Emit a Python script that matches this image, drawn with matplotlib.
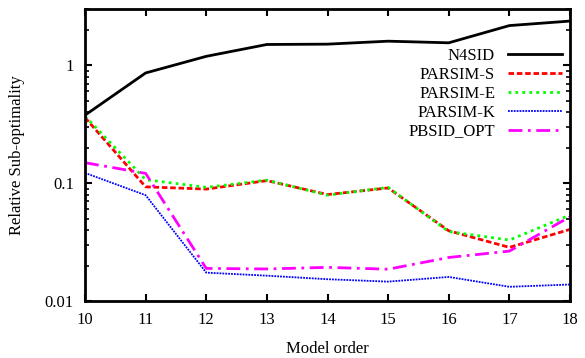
import matplotlib
matplotlib.use("Agg")
import matplotlib.pyplot as plt
from matplotlib.ticker import FixedLocator, LogLocator, NullFormatter

orders = [10, 11, 12, 13, 14, 15, 16, 17, 18]
n4sid = [0.377, 0.86, 1.19, 1.50, 1.51, 1.60, 1.55, 2.17, 2.37]
parsim_s = [0.36, 0.093, 0.089, 0.105, 0.080, 0.091, 0.0394, 0.0285, 0.0405]
parsim_e = [0.37, 0.107, 0.092, 0.106, 0.079, 0.092, 0.0388, 0.0329, 0.0536]
parsim_k = [0.122, 0.079, 0.0174, 0.0164, 0.0153, 0.0146, 0.016, 0.0132, 0.0138]
pbsid_opt = [0.149, 0.121, 0.0189, 0.0187, 0.0193, 0.0186, 0.0234, 0.0265, 0.0519]
ytick_vals = [0.01, 0.1, 1]
ytick_labels = ["0.01", "0.1", "1"]

plt.rcParams['font.family'] = ['Liberation Serif', 'DejaVu Serif']
plt.rcParams['font.size'] = 12

fig = plt.figure(figsize=(5.85, 3.58), dpi=100)
ax = fig.add_axes([85/585, 1 - 301/358, (570-85)/585, (301-9)/358])

ax.plot(orders, n4sid, color='black', lw=2, ls='-', label='N4SID')
ax.plot(orders, parsim_s, color='#ff0000', lw=2, ls=(0, (2, 1)), label='PARSIM-S')
ax.plot(orders, parsim_e, color='#00ff00', lw=2, ls=(0, (1, 1.5)), label='PARSIM-E')
ax.plot(orders, parsim_k, color='#0000ff', lw=1.3, ls=(0, (1, 0.6)), label='PARSIM-K')
ax.plot(orders, pbsid_opt, color='#ff00ff', lw=2, ls=(0, (5, 2, 1, 2)), label='PBSID_OPT')

ax.set_yscale('log')
ax.set_xlim(10, 18)
ax.set_ylim(0.01, 3.0)
ax.set_xticks(orders)
ax.set_xticklabels([str(o) for o in orders])
ax.yaxis.set_major_locator(FixedLocator(ytick_vals))
ax.set_yticklabels(ytick_labels)
ax.yaxis.set_minor_locator(LogLocator(base=10, subs=range(2, 10)))
ax.yaxis.set_minor_formatter(NullFormatter())

ax.tick_params(which='both', direction='in', top=True, right=True)
ax.tick_params(which='major', length=5, width=1.5, pad=8)
ax.tick_params(which='minor', length=3, width=1.2)
for s in ax.spines.values():
    s.set_linewidth(2)

ax.set_xlabel('Model order', labelpad=9)
ax.set_ylabel('Relative Sub-optimality', labelpad=14)

leg = ax.legend(loc='upper right', bbox_to_anchor=(0.983, 0.868),
                frameon=False, markerfirst=False,
                handlelength=3.2, labelspacing=0.18, borderaxespad=0,
                borderpad=0, handletextpad=0.8, fontsize=12)

fig.savefig('out.png', dpi=100)
